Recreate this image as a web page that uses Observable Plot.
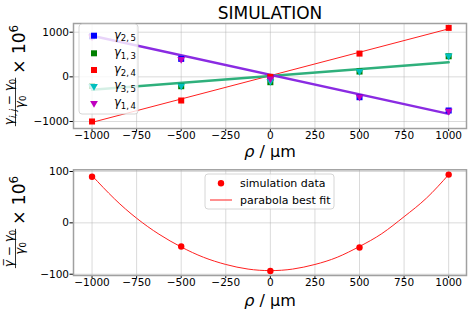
<!DOCTYPE html>
<html><head><meta charset="utf-8">
<script src="https://cdn.jsdelivr.net/npm/d3@7"></script>
<script src="https://cdn.jsdelivr.net/npm/@observablehq/plot@0.6"></script>
<style>
html,body{margin:0;padding:0;background:#fff;}
#wrap{position:relative;width:471px;height:314px;overflow:hidden;font-family:"DejaVu Sans",sans-serif;}
#wrap > svg, #wrap > figure{position:absolute;left:0;margin:0;}
</style></head><body><div id="wrap"></div>
<script>
// ---- data ----
const rho = [-1000, -500, 0, 500, 1000];
const gamma25 = [908, 403, -20, -456, -754];
const gamma13 = [-205, -210, -120, 119, 461];
const gamma24 = [-1000, -530, 0, 521, 1097];
const gamma35 = [-215, -200, -100, 125, 470];
const gamma14 = [900, 395, -40, -445, -765];
const fitRho = [-1000, 1000];
const fit25 = [920, -829];
const fit13 = [-290, 327];
const fit24 = [-1020, 1075];
const xTicks = [-1000, -750, -500, -250, 0, 250, 500, 750, 1000];
const yTicksTop = [-1000, 0, 1000];
const yTicksBottom = [-100, 0, 100];
const gammaBar = [89.7, -46, -93.6, -48, 94];
const curveRho = [-1000, -875, -750, -625, -500, -375, -250, -125, 0, 125, 250, 375, 500, 625, 750, 875, 1000];
const curveVal = [92, 47, 9, -22, -47, -67, -81, -90, -93, -90, -81, -67, -46, -21, 12, 48, 94];

const seriesTop = [
  {name: ["2", "5"], vals: gamma25, color: "#0000ff", symbol: "square"},
  {name: ["1", "3"], vals: gamma13, color: "#008000", symbol: "square"},
  {name: ["2", "4"], vals: gamma24, color: "#ff0000", symbol: "square"},
  {name: ["3", "5"], vals: gamma35, color: "#00bfbf", symbol: "triangle"},
  {name: ["1", "4"], vals: gamma14, color: "#bf00bf", symbol: "triangle"}
];
const fits = [
  {vals: fit24, color: "#ff2020", width: 1},
  {vals: fit13, color: "#2fb07c", width: 2.5},
  {vals: fit25, color: "#8a2be2", width: 2.5}
];

const W = 471;
const style = {fontFamily: "DejaVu Sans", fontSize: "10.5px", background: "transparent", overflow: "visible"};
const gridOpt = {stroke: "#b0b0b0", strokeOpacity: 0.6, strokeWidth: 0.8};
const fmt = d3.format("d");

// ---- top panel ----
const topH = 157;
const topMarks = [
  Plot.gridX({ticks: xTicks, ...gridOpt}),
  Plot.gridY({ticks: yTicksTop, ...gridOpt}),
  Plot.axisX({ticks: xTicks, tickSize: 3, tickPadding: 0, tickFormat: fmt, label: null}),
  Plot.axisY({ticks: yTicksTop, tickSize: 3.5, tickPadding: 1, tickFormat: fmt, label: null})
];
for (const f of fits) {
  topMarks.push(Plot.line(fitRho.map((x, i) => ({x, y: f.vals[i]})), {x: "x", y: "y", stroke: f.color, strokeWidth: f.width}));
}
for (const s of seriesTop) {
  const tri = s.symbol === "triangle";
  topMarks.push(Plot.dot(rho.map((x, i) => ({x, y: s.vals[i]})), {
    x: "x", y: "y", symbol: s.symbol, fill: s.color, stroke: "none",
    r: tri ? 2.9 : 3.4, rotate: tri ? 180 : 0
  }));
}
topMarks.push(Plot.frame({stroke: "#a0a0a0", strokeWidth: 1.5}));

const topPlot = Plot.plot({
  width: W, height: topH, marginLeft: 73, marginRight: 5, marginTop: 23, marginBottom: topH - 128,
  style, x: {domain: [-1104, 1100]}, y: {domain: [-1157, 1195]},
  marks: topMarks
});

// ---- bottom panel ----
const botTop = 157, botH = 314 - 157;
const botPlot = Plot.plot({
  width: W, height: botH, marginLeft: 73, marginRight: 5, marginTop: 12.3, marginBottom: 39,
  style, x: {domain: [-1104, 1100]}, y: {domain: [-102.5, 103.3]},
  marks: [
    Plot.gridX({ticks: xTicks, ...gridOpt}),
    Plot.gridY({ticks: yTicksBottom, ...gridOpt}),
    Plot.axisX({ticks: xTicks, tickSize: 3, tickPadding: 0, tickFormat: fmt, label: null}),
    Plot.axisY({ticks: yTicksBottom, tickSize: 3.5, tickPadding: 1, tickFormat: fmt, label: null}),
    Plot.line(curveRho.map((x, i) => ({x, y: curveVal[i]})), {x: "x", y: "y", stroke: "#ff2020", strokeWidth: 1, curve: "natural"}),
    Plot.dot(rho.map((x, i) => ({x, y: gammaBar[i]})), {x: "x", y: "y", fill: "#ff0000", r: 3.2}),
    Plot.frame({stroke: "#a0a0a0", strokeWidth: 1.5})
  ]
});

const wrap = document.getElementById("wrap");
topPlot.style.top = "0px";
botPlot.style.top = botTop + "px";
wrap.appendChild(topPlot);
wrap.appendChild(botPlot);

// ---- overlay: title, axis labels, legends ----
const NS = "http://www.w3.org/2000/svg";
const ov = document.createElementNS(NS, "svg");
ov.setAttribute("width", W); ov.setAttribute("height", 314);
ov.style.position = "absolute"; ov.style.left = "0"; ov.style.top = "0";
ov.style.fontFamily = "DejaVu Sans";
wrap.appendChild(ov);

function el(tag, attrs, parent, text) {
  const e = document.createElementNS(NS, tag);
  for (const k in attrs) e.setAttribute(k, attrs[k]);
  if (text != null) e.textContent = text;
  (parent || ov).appendChild(e);
  return e;
}
function ts(parent, text, attrs) { return el("tspan", attrs || {}, parent, text); }

// title
el("text", {x: 270, y: 18.5, "text-anchor": "middle", "font-size": 17}, ov, "SIMULATION");
// x labels
for (const y of [156.5, 305.5]) {
  const t = el("text", {x: 270, y, "text-anchor": "middle", "font-size": 16});
  ts(t, "ρ", {"font-style": "italic"});
  ts(t, " / µm");
}

// y labels (rotated fraction × 10^6)
function yLabel(cy, numBuild) {
  const g = el("g", {transform: `translate(16,${cy}) rotate(-90)`});
  const num = el("text", {y: -3, "font-size": 12, "text-anchor": "middle"}, g);
  numBuild(num);
  const den = el("text", {y: 7.5, "font-size": 12, "text-anchor": "middle"}, g);
  ts(den, "γ", {"font-style": "italic"});
  ts(den, "0", {"font-size": 8.5, dy: 2.5});
  const mult = el("text", {y: 9, "font-size": 17}, g);
  ts(mult, "× 10");
  ts(mult, "6", {"font-size": 12, dy: -7});
  const fw = Math.max(num.getComputedTextLength(), den.getComputedTextLength()) + 2;
  const mw = mult.getComputedTextLength();
  const gap = 4;
  const total = fw + gap + mw;
  const x0 = -total / 2;
  num.setAttribute("x", x0 + fw / 2);
  den.setAttribute("x", x0 + fw / 2);
  el("line", {x1: x0, x2: x0 + fw, y1: -0.5, y2: -0.5, stroke: "#000", "stroke-width": 0.8}, g);
  mult.setAttribute("x", x0 + fw + gap);
}
yLabel(75.5, t => {
  ts(t, "γ", {"font-style": "italic"});
  ts(t, "i,\u2009j", {"font-size": 8.5, dy: 2.5, "font-style": "italic"});
  ts(t, " − ", {dy: -2.5});
  ts(t, "γ", {"font-style": "italic"});
  ts(t, "0", {"font-size": 8.5, dy: 2.5});
});
yLabel(222, t => {
  ts(t, "γ\u0305", {"font-style": "italic"});
  ts(t, " − ");
  ts(t, "γ", {"font-style": "italic"});
  ts(t, "0", {"font-size": 8.5, dy: 2.5});
});

// top legend
el("rect", {x: 79, y: 24, width: 59, height: 90, rx: 3, fill: "#fff", "fill-opacity": 0.8, stroke: "#cccccc", "stroke-width": 0.8});
const rows = [35.7, 53.3, 70, 86.3, 103.3];
seriesTop.forEach((s, i) => {
  const cy = rows[i];
  const sym = s.symbol === "triangle" ? d3.symbolTriangle : d3.symbolSquare;
  const size = s.symbol === "triangle" ? 26 : 36;
  el("path", {d: d3.symbol(sym, size)(), fill: s.color,
    transform: `translate(94,${cy}) rotate(${s.symbol === "triangle" ? 180 : 0})`});
  const t = el("text", {x: 114, y: cy + 3, "font-size": 11.5});
  ts(t, "γ", {"font-style": "italic"});
  ts(t, s.name[0] + ",\u2009" + s.name[1], {"font-size": 8.5, dy: 2.5});
});

// bottom legend
el("rect", {x: 205, y: 174, width: 129, height: 35, rx: 3, fill: "#fff", "fill-opacity": 0.8, stroke: "#cccccc", "stroke-width": 0.8});
el("circle", {cx: 221, cy: 183.3, r: 3.2, fill: "#ff0000"});
el("line", {x1: 210, x2: 232, y1: 200, y2: 200, stroke: "#ff2020", "stroke-width": 1});
el("text", {x: 240, y: 187.3, "font-size": 11}, ov, "simulation data");
el("text", {x: 240, y: 204, "font-size": 11}, ov, "parabola best fit");
</script></body></html>
